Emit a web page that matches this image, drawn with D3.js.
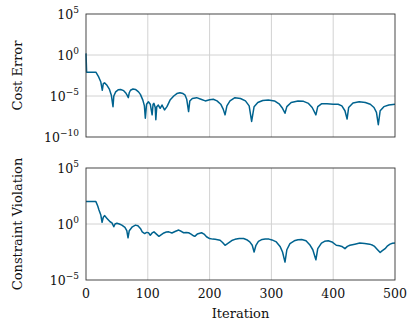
<!DOCTYPE html>
<html>
<head>
<meta charset="utf-8">
<script src="https://cdn.jsdelivr.net/npm/d3@7"></script>
<style>
  body { margin: 0; background: #fff; }
  text { font-family: "DejaVu Serif", "Liberation Serif", serif; fill: #111; }
</style>
</head>
<body>
<div id="chart"></div>
<script>
const costIter = [0, 1, 16, 20, 24, 26.4, 28, 30, 34, 38, 41, 43.7, 45, 48, 52, 56, 61, 64, 66.5, 68.5,
  70, 72, 76, 80, 85, 88, 92, 94.5, 96, 98, 101, 104, 107, 108.5, 110, 112, 113, 114.5, 117, 120,
  123, 127, 131, 136, 142, 147, 152, 157, 160, 163, 166, 168, 172, 179, 186, 193, 200, 206, 212, 218,
  222, 225, 228, 233, 241, 250, 258, 264, 268, 272, 278, 286, 295, 305, 313, 318, 322, 325, 332, 343,
  352, 360, 366, 372, 375, 381, 390, 400, 408, 414, 419, 422.5, 425, 432, 442, 452, 460, 466, 470, 473,
  476, 482, 490, 500];
const costLog = [0.2, -2.1, -2.1, -2.6, -3.3, -4.3, -3.5, -3.4, -3.7, -4.2, -4.9, -6.3, -5.0, -4.5, -4.25, -4.2, -4.35, -4.6, -4.9, -5.2,
  -4.6, -4.3, -4.15, -4.2, -4.5, -4.8, -5.5, -6.2, -7.7, -6.0, -5.7, -6.0, -7.3, -6.0, -5.9, -6.4, -7.9, -6.3, -6.1, -6.5,
  -6.1, -6.7, -6.3, -5.5, -5.0, -4.7, -4.6, -4.7, -4.85, -5.4, -6.9, -5.6, -5.3, -5.2, -5.4, -5.6, -5.45, -5.4, -5.6, -6.0,
  -6.6, -7.3, -6.2, -5.6, -5.2, -5.3, -5.6, -6.2, -8.1, -6.3, -5.8, -5.55, -5.5, -5.6, -6.0, -6.5, -7.1, -6.3, -5.8, -5.6,
  -5.65, -5.9, -6.4, -7.3, -6.3, -5.95, -5.95, -6.0, -6.0, -6.2, -6.8, -7.8, -6.4, -5.85, -5.7, -5.8, -6.0, -6.4, -7.0, -8.5,
  -6.8, -6.3, -6.1, -6.0];

const violIter = [0, 16, 19, 21, 24, 26, 28, 30, 34, 39, 42, 45, 47, 50, 54, 58, 63, 66, 68, 70,
  75, 80, 84, 88, 91, 95, 98, 101, 104, 107, 110, 114, 118, 122, 126, 130, 134, 139, 145, 150,
  154, 158, 162, 166, 170, 174, 176, 180, 187, 191, 195, 200, 205, 209, 213, 217, 221, 225, 229, 233,
  237, 241, 248, 255, 260, 265, 269, 272, 275, 279, 285, 290, 296, 301, 308, 314, 318, 322, 325, 330,
  337, 343, 349, 356, 362, 367, 372, 375, 381, 386, 392, 398, 405, 410, 414, 419, 423, 427, 435, 443,
  451, 459, 464, 467, 471, 476, 479, 484, 488, 492, 496, 500];
const violLog = [2.0, 2.0, 1.6, 1.25, 0.8, 0.15, 0.6, 0.75, 0.5, 0.2, 0.1, -0.25, 0.0, 0.07, 0.0, -0.1, -0.3, -0.6, -1.23, -0.6,
  -0.25, -0.1, -0.15, -0.4, -0.7, -0.85, -0.75, -0.77, -1.0, -0.8, -0.7, -0.9, -1.1, -0.95, -0.8, -0.72, -0.7, -0.8, -0.65, -0.54,
  -0.65, -0.78, -0.75, -0.78, -0.9, -1.05, -1.1, -0.9, -0.78, -0.9, -1.14, -1.3, -1.35, -1.37, -1.4, -1.45, -1.65, -1.9, -1.75, -1.6,
  -1.45, -1.37, -1.3, -1.3, -1.4, -1.6, -1.9, -2.5, -1.9, -1.55, -1.38, -1.34, -1.35, -1.42, -1.6, -2.0, -2.5, -3.4, -2.3, -1.75,
  -1.5, -1.4, -1.38, -1.5, -1.85, -2.3, -3.2, -2.2, -1.7, -1.55, -1.5, -1.6, -1.9, -1.95, -2.0, -2.2, -2.0, -1.9, -1.8, -1.7,
  -1.75, -1.8, -1.9, -2.0, -2.25, -2.55, -2.4, -2.2, -1.95, -1.8, -1.72, -1.7];

const xTicks = [0, 100, 200, 300, 400, 500];
const costTickExp = [5, 0, -5, -10];
const violTickExp = [5, 0, -5];

const width = 416, height = 327;
const lineColor = "#00638f";
const gridColor = "#d2d2d2";
const axisColor = "#333";

const svg = d3.select("#chart").append("svg")
  .attr("width", width)
  .attr("height", height);

const x = d3.scaleLinear().domain([0, 500]).range([86, 395]);

function panel(top, bottom, tickExp, iters, logs, title) {
  const y = d3.scaleLog()
    .domain([Math.pow(10, d3.min(tickExp)), Math.pow(10, d3.max(tickExp))])
    .range([bottom, top]);
  const g = svg.append("g");

  // grid
  g.selectAll(".vgrid").data(xTicks.slice(1, -1)).enter().append("line")
    .attr("x1", d => x(d)).attr("x2", d => x(d))
    .attr("y1", top).attr("y2", bottom)
    .style("stroke", gridColor).style("stroke-width", 1);
  g.selectAll(".hgrid").data(tickExp.slice(1, -1)).enter().append("line")
    .attr("x1", x(0)).attr("x2", x(500))
    .attr("y1", d => y(Math.pow(10, d))).attr("y2", d => y(Math.pow(10, d)))
    .style("stroke", gridColor).style("stroke-width", 1);

  // line
  const pts = iters.map((it, i) => [it, Math.pow(10, logs[i])]);
  g.append("path")
    .datum(pts)
    .attr("d", d3.line().x(d => x(d[0])).y(d => y(d[1])))
    .style("fill", "none")
    .style("stroke", lineColor)
    .style("stroke-width", 1.5)
    .style("stroke-linejoin", "round");

  // frame
  g.append("rect")
    .attr("x", x(0)).attr("y", top)
    .attr("width", x(500) - x(0)).attr("height", bottom - top)
    .style("fill", "none").style("stroke", axisColor).style("stroke-width", 0.9);

  // y tick labels with superscript exponent
  const lab = g.selectAll(".ylab").data(tickExp).enter().append("text")
    .attr("x", 79)
    .attr("y", d => y(Math.pow(10, d)) + 5)
    .attr("text-anchor", "end")
    .style("font-size", "12.5px");
  lab.append("tspan").text("10");
  lab.append("tspan").attr("dy", -6).style("font-size", "9px")
    .text(d => d < 0 ? "\u2212" + (-d) : d);

  g.append("text")
    .attr("transform", `translate(22,${(top + bottom) / 2}) rotate(-90)`)
    .attr("text-anchor", "middle")
    .style("font-size", "13px")
    .text(title);
  return y;
}

panel(14, 137, costTickExp, costIter, costLog, "Cost Error");
panel(168, 280, violTickExp, violIter, violLog, "Constraint Violation");

svg.selectAll(".xlab").data(xTicks).enter().append("text")
  .attr("x", d => x(d)).attr("y", 298)
  .attr("text-anchor", "middle")
  .style("font-size", "12.5px")
  .text(d => d);

svg.append("text")
  .attr("x", x(250)).attr("y", 318)
  .attr("text-anchor", "middle")
  .style("font-size", "13px")
  .text("Iteration");
</script>
</body>
</html>
